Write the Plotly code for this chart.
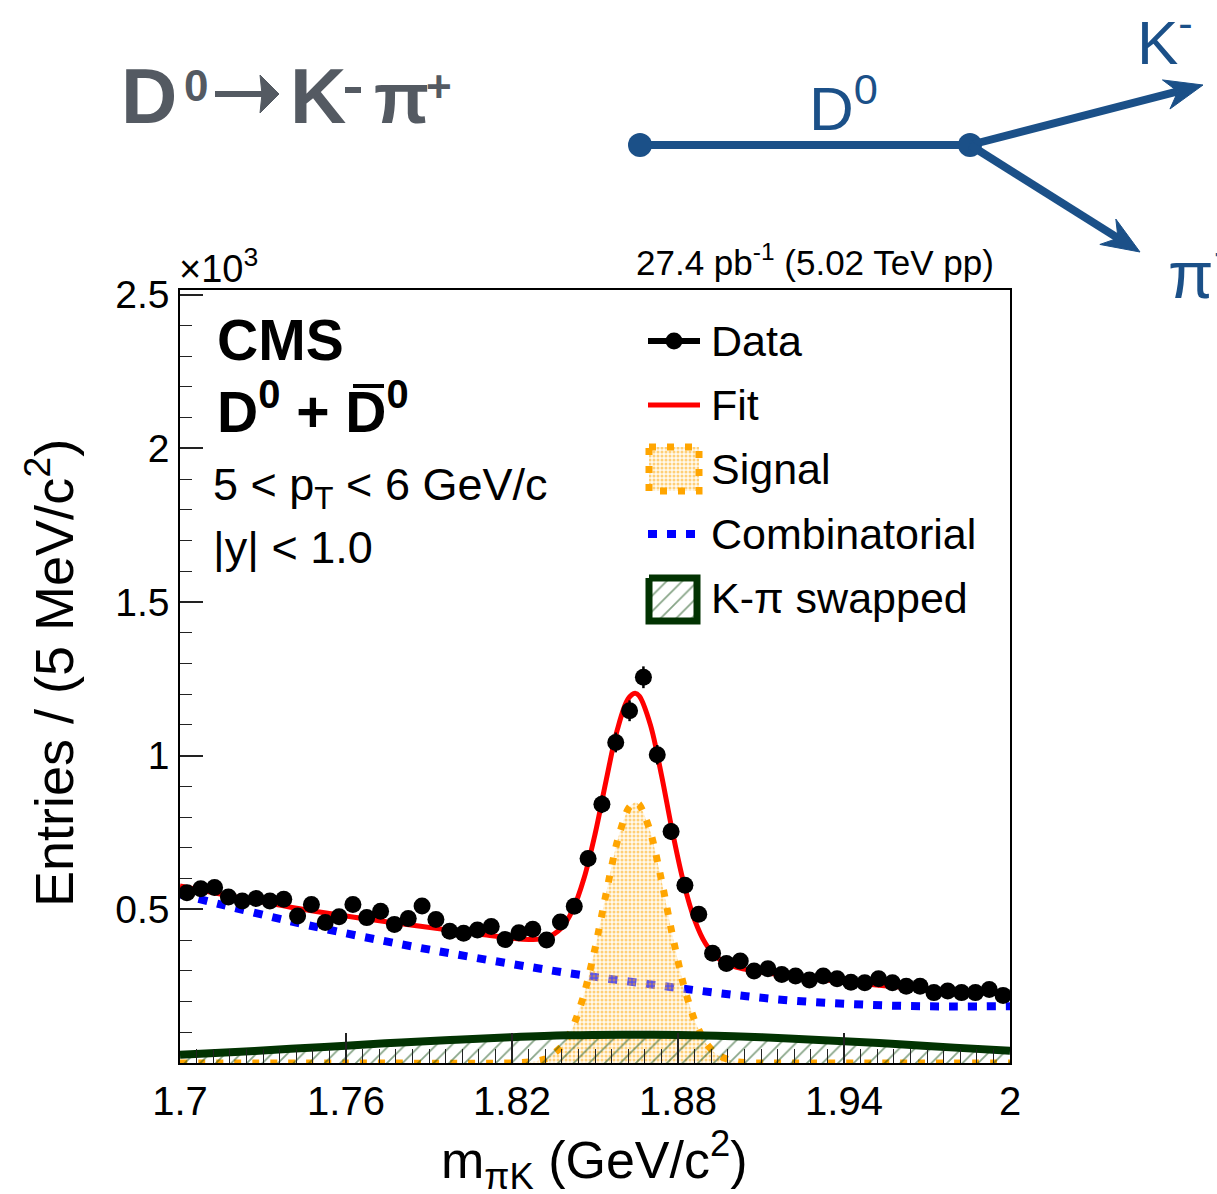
import numpy as np
import plotly.graph_objects as go

# ---------------- data (entries in units of 10^3 per 5 MeV/c^2) ----------------
mass_low, mass_high, bin_width = 1.70, 2.00, 0.005
bin_centers = mass_low + bin_width / 2 + bin_width * np.arange(60)

data_counts = [
    0.554, 0.567, 0.571, 0.540, 0.527, 0.535, 0.527, 0.533, 0.478, 0.516,
    0.457, 0.476, 0.516, 0.473, 0.494, 0.451, 0.470, 0.511, 0.467, 0.429,
    0.422, 0.433, 0.444, 0.402, 0.424, 0.435, 0.400, 0.459, 0.510, 0.665,
    0.842, 1.043, 1.146, 1.255, 1.003, 0.753, 0.578, 0.484, 0.357, 0.324,
    0.332, 0.299, 0.307, 0.288, 0.283, 0.270, 0.283, 0.274, 0.263, 0.261,
    0.274, 0.261, 0.250, 0.250, 0.229, 0.234, 0.229, 0.229, 0.239, 0.220,
]
# Poisson uncertainty of each bin (counts are in thousands)
data_errors = [np.sqrt(c * 1000.0) / 1000.0 for c in data_counts]

# total fit
fit_mass = [1.700, 1.720, 1.740, 1.760, 1.780, 1.800, 1.810, 1.820, 1.826, 1.832,
            1.838, 1.842, 1.846, 1.850, 1.854, 1.858, 1.862, 1.8645, 1.866, 1.870,
            1.874, 1.878, 1.882, 1.886, 1.890, 1.894, 1.900, 1.906, 1.920, 1.940,
            1.960, 1.980, 2.000]
fit_vals = [0.576, 0.540, 0.507, 0.478, 0.453, 0.429, 0.417, 0.406, 0.402, 0.406,
            0.440, 0.499, 0.600, 0.744, 0.918, 1.082, 1.185, 1.203, 1.194, 1.101,
            0.938, 0.752, 0.588, 0.466, 0.388, 0.344, 0.315, 0.302, 0.284, 0.264,
            0.247, 0.234, 0.225]

# signal component
sig_mass = [1.700, 1.760, 1.820, 1.826, 1.832, 1.838, 1.842, 1.846, 1.850, 1.854,
            1.858, 1.862, 1.8645, 1.866, 1.870, 1.874, 1.878, 1.882, 1.886, 1.890,
            1.894, 1.900, 1.906, 1.912, 1.960, 2.000]
sig_vals = [0.000, 0.000, 0.000, 0.003, 0.013, 0.054, 0.117, 0.222, 0.372, 0.551,
            0.719, 0.827, 0.848, 0.841, 0.753, 0.596, 0.415, 0.255, 0.139, 0.066,
            0.028, 0.006, 0.001, 0.000, 0.000, 0.000]

# combinatorial background
comb_mass = [1.70, 1.72, 1.74, 1.76, 1.78, 1.80, 1.82, 1.84, 1.86, 1.88,
             1.90, 1.92, 1.94, 1.96, 1.98, 2.00]
comb_vals = [0.549, 0.504, 0.461, 0.422, 0.386, 0.353, 0.322, 0.293, 0.268, 0.244,
             0.222, 0.204, 0.193, 0.186, 0.184, 0.185]

# K-pi swapped component
swap_mass = [1.70, 1.72, 1.74, 1.76, 1.78, 1.80, 1.82, 1.84, 1.86, 1.88,
             1.90, 1.92, 1.94, 1.96, 1.98, 2.00]
swap_vals = [0.027, 0.036, 0.046, 0.056, 0.067, 0.076, 0.084, 0.090, 0.092, 0.091,
             0.087, 0.080, 0.071, 0.061, 0.050, 0.040]

x_ticks = [1.70, 1.76, 1.82, 1.88, 1.94, 2.00]
x_tick_text = ["1.7", "1.76", "1.82", "1.88", "1.94", "2"]
y_ticks = [0.5, 1.0, 1.5, 2.0, 2.5]
y_tick_text = ["0.5", "1", "1.5", "2", "2.5"]

# ---------------- geometry helpers ----------------
W, H = 1217, 1194
L, R, T, B = 180, 207, 290, 131
PW, PH = W - L - R, H - T - B


def PX(px):
    return (px - L) / PW


def PY(py):
    return (H - B - py) / PH


FONT = "Liberation Sans, Arial, Helvetica, sans-serif"
BLUE_DIAG = "#1b5088"
GRAY = "#545a62"
ORANGE = "#ffa500"
GREEN = "#023302"
HATCH = "#0f4a0f"
SIG_FILL = dict(shape=".", fgcolor=ORANGE, bgcolor="rgba(255,236,205,0.35)",
                size=4, solidity=0.45)
SWAP_FILL = dict(shape="/", fgcolor=HATCH, bgcolor="rgba(0,0,0,0)",
                 size=11, solidity=0.16)

fig = go.Figure()

# combinatorial background
fig.add_trace(go.Scatter(
    x=comb_mass, y=comb_vals, mode="lines", line_shape="spline",
    line=dict(color="#0000ff", width=8, dash="9px,10px"),
    showlegend=False, hoverinfo="skip"))

# signal
fig.add_trace(go.Scatter(
    x=sig_mass, y=sig_vals, mode="lines", line_shape="spline",
    line=dict(color=ORANGE, width=7, dash="7px,11px", smoothing=0.7),
    fill="tozeroy", fillcolor="rgba(255,200,130,0.35)", fillpattern=SIG_FILL,
    showlegend=False, hoverinfo="skip"))

# K-pi swapped
fig.add_trace(go.Scatter(
    x=swap_mass, y=swap_vals, mode="lines", line_shape="spline",
    line=dict(color=GREEN, width=8),
    fill="tozeroy", fillcolor="rgba(0,0,0,0)", fillpattern=SWAP_FILL,
    showlegend=False, hoverinfo="skip"))

# total fit
fig.add_trace(go.Scatter(
    x=fit_mass, y=fit_vals, mode="lines", line_shape="spline",
    line=dict(color="#ff0000", width=5),
    showlegend=False, hoverinfo="skip"))

# data
fig.add_trace(go.Scatter(
    x=bin_centers, y=data_counts, mode="markers",
    marker=dict(color="black", size=17),
    error_y=dict(type="data", array=data_errors, visible=True,
                 color="black", thickness=2.5, width=0),
    cliponaxis=False, showlegend=False, hoverinfo="skip"))

# ---------------- legend, drawn on a pixel-unit overlay ----------------
leg = dict(xaxis="x2", yaxis="y2", showlegend=False, hoverinfo="skip")
fig.add_trace(go.Scatter(x=[648, 700], y=[341, 341], mode="lines",
                         line=dict(color="black", width=6), **leg))
fig.add_trace(go.Scatter(x=[674], y=[341], mode="markers",
                         marker=dict(color="black", size=17), **leg))
fig.add_trace(go.Scatter(x=[648, 700], y=[405, 405], mode="lines",
                         line=dict(color="#ff0000", width=5), **leg))
fig.add_trace(go.Scatter(
    x=[649, 699, 699, 649, 649], y=[447, 447, 491, 491, 447], mode="lines",
    line=dict(color=ORANGE, width=7, dash="7px,11px"),
    fill="toself", fillcolor="rgba(255,200,130,0.35)", fillpattern=SIG_FILL, **leg))
fig.add_trace(go.Scatter(x=[648, 702], y=[534, 534], mode="lines",
                         line=dict(color="#0000ff", width=8, dash="9px,10px"), **leg))
fig.add_trace(go.Scatter(
    x=[649, 697, 697, 649, 649], y=[578, 578, 621, 621, 578], mode="lines",
    line=dict(color=GREEN, width=7),
    fill="toself", fillcolor="rgba(0,0,0,0)", fillpattern=SWAP_FILL, **leg))

# ---------------- decay diagram ----------------
shapes = []
line_w = 8
shapes.append(dict(type="line", xref="paper", yref="paper",
                   x0=PX(640), y0=PY(145), x1=PX(970), y1=PY(145),
                   line=dict(color=BLUE_DIAG, width=line_w)))
for cx in (640, 970):
    r = 12
    shapes.append(dict(type="circle", xref="paper", yref="paper",
                       x0=PX(cx - r), x1=PX(cx + r), y0=PY(145 + r), y1=PY(145 - r),
                       fillcolor=BLUE_DIAG, line=dict(color=BLUE_DIAG, width=0)))


def arrow(tail, tip, color, width, head_len=38, half_w=15, notch=26):
    tx, ty = tail
    hx, hy = tip
    d = np.hypot(hx - tx, hy - ty)
    ux, uy = (hx - tx) / d, (hy - ty) / d
    px_, py_ = -uy, ux
    bx, by = hx - head_len * ux, hy - head_len * uy
    nx, ny = hx - notch * ux, hy - notch * uy
    c1 = (bx + half_w * px_, by + half_w * py_)
    c2 = (bx - half_w * px_, by - half_w * py_)
    out = [dict(type="line", xref="paper", yref="paper",
                x0=PX(tx), y0=PY(ty), x1=PX(nx), y1=PY(ny),
                line=dict(color=color, width=width))]
    path = "M {} {} L {} {} L {} {} L {} {} Z".format(
        PX(hx), PY(hy), PX(c1[0]), PY(c1[1]), PX(nx), PY(ny), PX(c2[0]), PY(c2[1]))
    out.append(dict(type="path", xref="paper", yref="paper", path=path,
                    fillcolor=color, line=dict(color=color, width=1)))
    return out


shapes += arrow((970, 145), (1203, 85), BLUE_DIAG, line_w)
shapes += arrow((970, 145), (1140, 252), BLUE_DIAG, line_w)

# decay arrow and K charge bar in the header
shapes += arrow((215, 94), (279, 94), GRAY, 6, head_len=19, half_w=19, notch=17)
shapes.append(dict(type="rect", xref="paper", yref="paper",
                   x0=PX(345), x1=PX(361), y0=PY(93), y1=PY(87),
                   fillcolor=GRAY, line=dict(width=0)))

# bar over the anti-D
shapes.append(dict(type="line", xref="paper", yref="paper",
                   x0=PX(353), x1=PX(384), y0=PY(386), y1=PY(386),
                   line=dict(color="black", width=4)))


def note(text, x, y, size, xanchor="left", color="black", angle=0):
    return dict(text=text, x=PX(x), y=PY(y), xref="paper", yref="paper",
                xanchor=xanchor, yanchor="middle", showarrow=False,
                textangle=angle, font=dict(family=FONT, size=size, color=color))


annotations = [
    note("<b>D</b>", 119, 96, 78, color=GRAY),
    note("<b>0</b>", 182, 85, 44, color=GRAY),
    note("<b>K</b>", 288, 96, 78, color=GRAY),
    note("<b>π</b>", 372, 98, 72, color=GRAY),
    note("<b>+</b>", 424, 86, 44, color=GRAY),
    note("D<sup>0</sup>", 843, 104, 62, xanchor="center", color=BLUE_DIAG),
    note("K<sup>-</sup>", 1135, 38, 62, color=BLUE_DIAG),
    note("π<sup>+</sup>", 1166, 270, 66, color=BLUE_DIAG),
    note("×10<sup>3</sup>", 177, 266, 38),
    note("27.4 pb<sup>-1</sup> (5.02 TeV pp)", 996, 260, 35, xanchor="right"),
    note("<b>CMS</b>", 215, 340, 57),
    note("<b>D<sup>0</sup> + D<sup>0</sup></b>", 215, 408, 57),
    note("5 < p<sub>T</sub> < 6 GeV/c", 211, 487, 45),
    note("|y| < 1.0", 211, 547, 45),
    note("Data", 709, 341, 43),
    note("Fit", 709, 405, 43),
    note("Signal", 709, 469, 43),
    note("Combinatorial", 709, 534, 43),
    note("K-π swapped", 709, 598, 43),
    note("Entries / (5 MeV/c<sup>2</sup>)", 50, 673, 54, xanchor="center", angle=-90),
    note("m<sub>πK</sub> (GeV/c<sup>2</sup>)", 594, 1160, 52, xanchor="center"),
]

fig.update_layout(
    width=W, height=H,
    margin=dict(l=L, r=R, t=T, b=B, pad=0),
    paper_bgcolor="white", plot_bgcolor="white",
    font=dict(family=FONT, color="black"),
    shapes=shapes, annotations=annotations,
    xaxis=dict(range=[mass_low, mass_high], tickvals=x_ticks, ticktext=x_tick_text,
               ticks="inside", ticklen=30, tickwidth=1.5, tickcolor="#222",
               minor=dict(tickvals=[round(1.70 + 0.006 * i, 3) for i in range(51) if i % 10],
                          ticks="inside", ticklen=14, tickwidth=1.2, tickcolor="#222"),
               showline=True, linecolor="black", linewidth=1.5, mirror=True,
               showgrid=False, zeroline=False,
               tickfont=dict(family=FONT, size=40), ticklabelstandoff=2),
    yaxis=dict(range=[0, 2.515], tickvals=y_ticks, ticktext=y_tick_text,
               ticks="inside", ticklen=23, tickwidth=1.5, tickcolor="#222",
               minor=dict(tickvals=[round(0.1 * i, 2) for i in range(1, 26) if i % 5],
                          ticks="inside", ticklen=12, tickwidth=1.2, tickcolor="#222"),
               showline=True, linecolor="black", linewidth=1.5, mirror=True,
               showgrid=False, zeroline=False,
               tickfont=dict(family=FONT, size=39), ticklabelstandoff=1),
    xaxis2=dict(range=[L, L + PW], overlaying="x", visible=False, fixedrange=True),
    yaxis2=dict(range=[H - B, T], overlaying="y", visible=False, fixedrange=True),
)

fig.write_html("out.html")
